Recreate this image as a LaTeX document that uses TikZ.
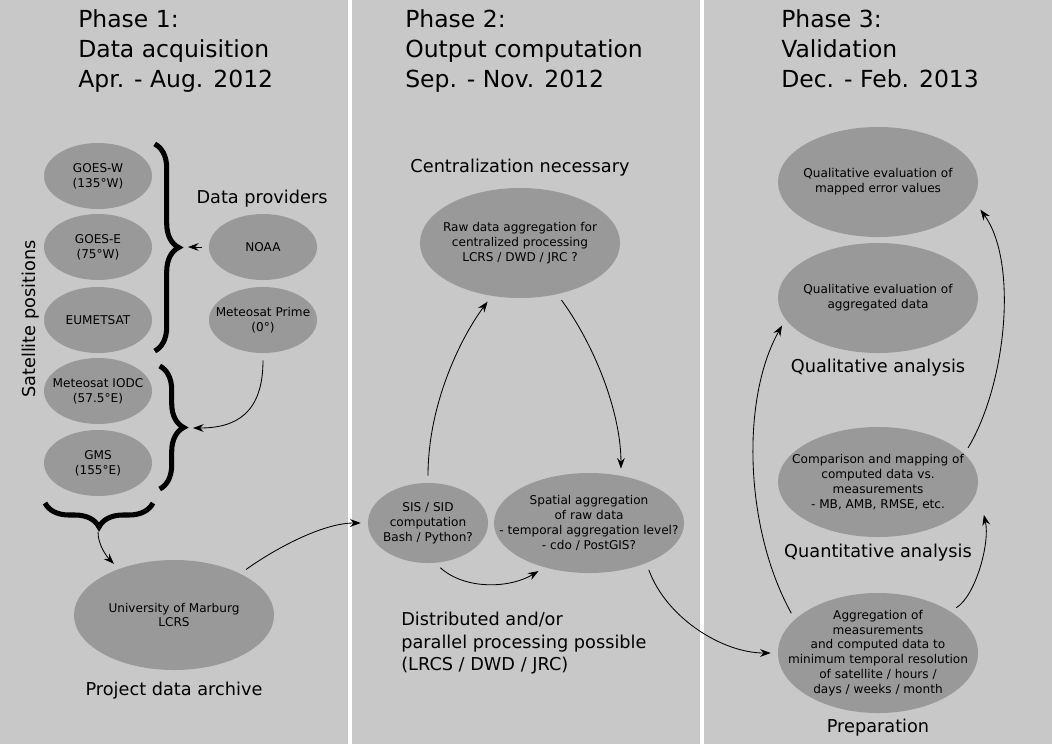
\documentclass[tikz,border=0pt]{standalone}
\usepackage{fontspec}
\setmainfont{DejaVu Sans}
\usetikzlibrary{shapes.geometric, arrows.meta, decorations.pathreplacing, calc}
\definecolor{panelgray}{RGB}{200,200,200}
\definecolor{blobgray}{RGB}{153,153,153}
\newcommand{\phasefont}{\fontsize{16.7}{21.3}\selectfont}
\newcommand{\tagfont}{\fontsize{12.6}{15.9}\selectfont}
\newcommand{\boxfont}{\fontsize{8.6}{10.5}\selectfont}

\begin{document}
\begin{tikzpicture}[x=0.025cm, y=-0.025cm,
  blob/.style={ellipse, fill=blobgray, inner sep=-25pt, align=center, font=\boxfont},
  sat/.style={blob, minimum width=2.7cm, minimum height=1.65cm},
  task/.style={blob, minimum width=5cm, minimum height=2.75cm},
  phase/.style={anchor=north west, inner sep=0pt, align=left, font=\phasefont},
  tag/.style={anchor=base, inner sep=0pt, font=\tagfont},
  flow/.style={-{Stealth[length=7.5pt, width=5.5pt]}, line width=0.6pt, shorten >=5pt, shorten <=5pt},
  curly/.style={decorate, decoration={brace, amplitude=0.6cm}, line width=3.6pt}]
\fill[panelgray] (0,0) rectangle (1052,744);
\useasboundingbox (0,0) rectangle (1052,744);
\draw[white, line width=2.2pt] (350,0) -- (350,744);
\draw[white, line width=2.2pt] (702,0) -- (702,744);
\node[phase] (phaseone) at (78,9) {Phase 1:\\Data acquisition\\Apr. - Aug. 2012};
\node[phase] (phasetwo) at (405,9) {Phase 2:\\Output computation\\Sep. - Nov. 2012};
\node[phase] (phasethree) at (781,9) {Phase 3:\\Validation\\Dec. - Feb. 2013};
\node[sat] (goesw) at (98,176) {GOES-W\\(135°W)};
\node[sat] (goese) at (98,247) {GOES-E\\(75°W)};
\node[sat] (eumetsat) at (98,320) {EUMETSAT};
\node[sat] (iodc) at (98,391) {Meteosat IODC\\(57.5°E)};
\node[sat] (gms) at (98,463) {GMS\\(155°E)};
\node[sat] (noaa) at (263,247) {NOAA};
\node[sat] (prime) at (263,320) {Meteosat Prime\\(0°)};
\node[task] (marburg) at (174,615) {University of Marburg\\LCRS};
\node[task] (rawagg) at (520,243) {Raw data aggregation for\\centralized processing\\LCRS / DWD / JRC ?};
\node[blob, minimum width=3cm, minimum height=2cm] (sis) at (428,523) {SIS / SID\\computation\\Bash / Python?};
\node[blob, minimum width=4.75cm, minimum height=2.5cm] (spatial) at (589,523) {Spatial aggregation\\of raw data\\- temporal aggregation level?\\- cdo / PostGIS?};
\node[task] (qualmap) at (878,182) {Qualitative evaluation of\\mapped error values};
\node[task] (qualagg) at (878,298) {Qualitative evaluation of\\aggregated data};
\node[task] (compare) at (878,482) {Comparison and mapping of\\computed data vs.\\measurements\\- MB, AMB, RMSE, etc.};
\node[task, minimum height=3cm] (prep) at (878,653) {Aggregation of\\measurements\\and computed data to\\minimum temporal resolution\\of satellite / hours /\\days / weeks / month};
\node[tag] (providers) at (262,203) {Data providers};
\node[tag, rotate=90] (positions) at (35,319) {Satellite positions};
\node[tag] (archive) at (174,695) {Project data archive};
\node[tag] (central) at (520,172) {Centralization necessary};
\node[tag, anchor=north west, align=left] (distributed) at (401,612) {Distributed and/or\\parallel processing possible\\(LRCS / DWD / JRC)};
\node[tag] (qualitative) at (878,372) {Qualitative analysis};
\node[tag] (quantitative) at (878,557) {Quantitative analysis};
\node[tag] (preparation) at (878,732) {Preparation};
\draw[curly] (154.7,144) -- (154.7,351);
\draw[curly] (159.7,366) -- (159.7,489);
\draw[curly] (153,503) -- (45,503);
\coordinate (braceone) at (181,247);
\coordinate (bracetwo) at (186,428);
\coordinate (bracethree) at (98,525);
\draw[flow] (noaa.west) -- (braceone);
\draw[flow] (prime.south) .. controls +(0,60) and +(50,0) .. (bracetwo);
\draw[flow] (bracethree) .. controls +(0,20) and +(-12,-12) .. (marburg.140);
\draw[flow] (marburg.32) .. controls +(35,-25) and +(-45,0) .. (sis.west);
\draw[flow] (sis.north) .. controls +(0,-80) and +(-30,40) .. (rawagg.242);
\draw[flow] (rawagg.306) .. controls +(40,55) and +(0,-60) .. (spatial.56);
\draw[flow] (sis.280) .. controls +(30,27) and +(-35,21) .. (spatial.225);
\draw[flow] (spatial.325) .. controls +(20,55) and +(-55,0) .. (prep.west);
\draw[flow] (prep.158) .. controls +(-50,-90) and +(-45,80) .. (qualagg.193);
\draw[flow] (prep.30) .. controls +(25,-15) and +(8,35) .. ($(compare.east)+(4,26)$);
\draw[flow] (compare.18) .. controls +(42,-70) and +(42,58) .. ($(qualmap.east)+(-2,22)$);
\end{tikzpicture}
\end{document}
